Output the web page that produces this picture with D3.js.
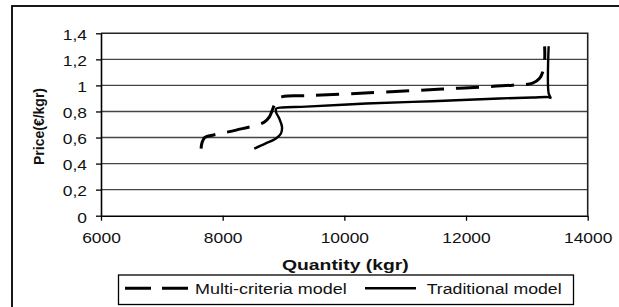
<!DOCTYPE html>
<html>
<head>
<meta charset="utf-8">
<script src="https://cdn.jsdelivr.net/npm/d3@7"></script>
<style>
  html, body { margin: 0; padding: 0; background: #fff; }
  svg { display: block; font-family: "Liberation Sans", Arial, sans-serif; }
</style>
</head>
<body>
<svg id="chart" width="619" height="307"></svg>
<script>
// ---- data ----
const multiQ = [7645, 7660, 7705, 7850, 7975, 8222, 8683, 8765, 8848, 8897, 9012, 9374, 9967, 11235, 11893, 12765, 13095, 13210, 13259, 13292, 13292];
const multiP = [0.515, 0.56, 0.60, 0.62, 0.632, 0.657, 0.718, 0.756, 0.848, 0.894, 0.917, 0.921, 0.933, 0.963, 0.979, 1.002, 1.017, 1.055, 1.101, 1.193, 1.30];
const tradQ  = [8519, 8700, 8876, 8958, 8975, 8930, 8876, 8881, 8979, 9370, 10357, 11449, 12551, 13095, 13358, 13390, 13358, 13358];
const tradP  = [0.515, 0.553, 0.593, 0.631, 0.682, 0.746, 0.797, 0.823, 0.831, 0.837, 0.861, 0.879, 0.900, 0.907, 0.910, 0.905, 0.94, 1.30];
const xTicks = [6000, 8000, 10000, 12000, 14000];
const xTickLabels = ["6000", "8000", "10000", "12000", "14000"];
const yTicks = [0, 0.2, 0.4, 0.6, 0.8, 1.0, 1.2, 1.4];
const yTickLabels = ["0", "0,2", "0,4", "0,6", "0,8", "1", "1,2", "1,4"];
const seriesNames = ["Multi-criteria model", "Traditional model"];
const xTitle = "Quantity (kgr)";
const yTitle = "Price(€/kgr)";

// ---- layout ----
const svg = d3.select("#chart");
const L = 101, R = 587.7, T = 33.3, B = 215.7;
const x = d3.scaleLinear().domain([6000, 14000]).range([L, R]);
const y = d3.scaleLinear().domain([0, 1.4]).range([B, T]);

svg.append("rect").attr("x", 0).attr("y", 0).attr("width", 619).attr("height", 307).attr("fill", "#fff");
// outer chart border
svg.append("rect").attr("x", 12).attr("y", 6).attr("width", 620).attr("height", 320)
  .attr("fill", "none").attr("stroke", "#000").attr("stroke-width", 1.8);

// gridlines
svg.append("g").selectAll("line").data(yTicks.filter(d => d > 0 && d < 1.4)).join("line")
  .attr("x1", L).attr("x2", R).attr("y1", d => y(d)).attr("y2", d => y(d))
  .attr("stroke", "#444").attr("stroke-width", 1.4);

// plot frame top & right
svg.append("path").attr("d", `M${L},${T}H${R}V${B}`).attr("fill", "none")
  .attr("stroke", "#222").attr("stroke-width", 1.6);

// axes
const tickFont = 14.5, tickScale = 1.2;
const yAxis = d3.axisLeft(y).tickValues(yTicks).tickFormat((d, i) => yTickLabels[i]).tickSize(5).tickSizeOuter(0);
const gy = svg.append("g").attr("transform", `translate(${L},0)`).call(yAxis);
gy.select(".domain").attr("stroke", "#000").attr("stroke-width", 1.6);
gy.selectAll(".tick line").attr("stroke", "#000").attr("stroke-width", 1.3);
gy.selectAll(".tick text").attr("x", null).attr("dy", null)
  .attr("transform", `translate(-14,6.3) scale(${tickScale},1)`)
  .attr("font-size", tickFont).attr("fill", "#111").attr("font-family", "Liberation Sans, Arial, sans-serif");

const xAxis = d3.axisBottom(x).tickValues(xTicks).tickFormat((d, i) => xTickLabels[i]).tickSize(5).tickSizeOuter(0);
const gx = svg.append("g").attr("transform", `translate(0,${B})`).call(xAxis);
gx.select(".domain").attr("stroke", "#000").attr("stroke-width", 1.6);
gx.selectAll(".tick line").attr("stroke", "#000").attr("stroke-width", 1.3);
gx.selectAll(".tick text").attr("y", null).attr("dy", null)
  .attr("transform", `translate(0,27.6) scale(${tickScale},1)`)
  .attr("font-size", tickFont).attr("fill", "#111").attr("font-family", "Liberation Sans, Arial, sans-serif");

// lines
const line = d3.line().x(d => x(d[0])).y(d => y(d[1])).curve(d3.curveCatmullRom.alpha(0.5));
const multi = multiQ.map((q, i) => [q, multiP[i]]);
const trad = tradQ.map((q, i) => [q, tradP[i]]);
svg.append("path").attr("d", line(multi)).attr("fill", "none").attr("stroke", "#000")
  .attr("stroke-width", 3).attr("stroke-dasharray", "23,12");
svg.append("path").attr("d", line(trad)).attr("fill", "none").attr("stroke", "#000")
  .attr("stroke-width", 2.4);

// axis titles
svg.append("text").attr("transform", `translate(345.4,270) scale(1.29,1)`)
  .attr("text-anchor", "middle").attr("font-weight", "bold").attr("font-size", 15).attr("fill", "#111").text(xTitle);
svg.append("text").attr("transform", `translate(43.5,126.5) rotate(-90)`)
  .attr("text-anchor", "middle").attr("font-weight", "bold").attr("font-size", 14).attr("fill", "#111").text(yTitle);

// legend
const lg = svg.append("g");
lg.append("rect").attr("x", 118.5).attr("y", 275).attr("width", 455).attr("height", 29.5)
  .attr("fill", "#fff").attr("stroke", "#000").attr("stroke-width", 1.3);
const legY = 288.3;
lg.append("line").attr("x1", 125).attr("x2", 188.5).attr("y1", legY).attr("y2", legY)
  .attr("stroke", "#000").attr("stroke-width", 3).attr("stroke-dasharray", "26,11");
lg.append("line").attr("x1", 365).attr("x2", 416).attr("y1", legY).attr("y2", legY)
  .attr("stroke", "#000").attr("stroke-width", 2.4);
lg.append("text").attr("transform", `translate(195,293.5) scale(1.24,1)`)
  .attr("font-size", 14.5).attr("fill", "#111").text(seriesNames[0]);
lg.append("text").attr("transform", `translate(426.7,293.5) scale(1.22,1)`)
  .attr("font-size", 14.5).attr("fill", "#111").text(seriesNames[1]);
</script>
</body>
</html>
